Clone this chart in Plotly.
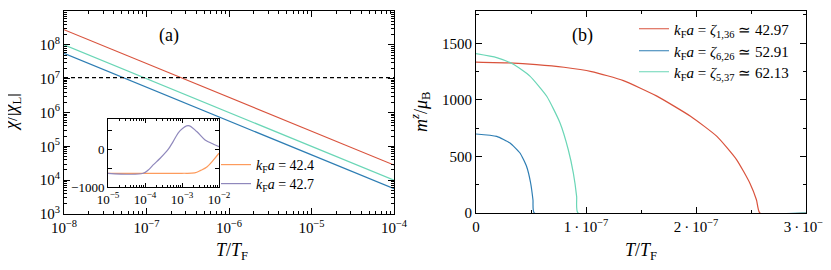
import plotly.graph_objects as go

# ---------------- data ----------------
# panel (a): chi/|chi_L| vs T/T_F (power law, endpoints)
T_a = [1e-8, 1e-4]
chi_red = [2.8e8, 2.8e4]
chi_green = [1.0e8, 1.0e4]
chi_blue = [5.6e7, 5.6e3]
chi_threshold = [1.07e7, 1.07e7]

# inset: values vs T/T_F (log x)
T_in_orange = [1e-5, 1e-4, 1e-3, 2.2e-3, 3.2e-3, 4.7e-3, 7.1e-3, 1e-2]
v_orange = [-637, -637, -637, -625, -560, -470, -284, -106]
T_in_purple = [1e-5, 8.9e-5, 1.23e-4, 1.66e-4, 2.57e-4, 4.27e-4, 5.75e-4,
               8.9e-4, 1.48e-3, 2.5e-3, 4.2e-3, 7.1e-3, 1e-2]
v_purple = [-637, -637, -549, -416, -240, 0, 202, 493, 626, 467, 247, 133, 69]

# panel (b): m^z/mu_B vs T/T_F
T_red = [0, 0.3e-7, 0.55e-7, 0.8e-7, 1.05e-7, 1.34e-7, 1.64e-7, 1.95e-7, 2.19e-7,
         2.37e-7, 2.49e-7, 2.55e-7, 2.58e-7, 3.0e-7]
m_red = [1334, 1327, 1312, 1288, 1250, 1170, 1035, 855, 677, 470, 263, 115, 0, 0]
T_blue = [0, 0.188e-7, 0.309e-7, 0.40e-7, 0.46e-7, 0.497e-7, 0.518e-7, 0.530e-7, 3.0e-7]
m_blue = [698, 677, 618, 530, 411, 263, 115, 0, 0]
T_green = [0, 0.188e-7, 0.339e-7, 0.49e-7, 0.643e-7, 0.764e-7, 0.839e-7, 0.885e-7,
           0.915e-7, 0.927e-7, 3.0e-7]
m_green = [1408, 1373, 1314, 1210, 1032, 796, 559, 352, 145, 0, 0]

names_b = ["<i>k</i><sub>F</sub><i>a</i> = <i>ζ</i><sub>1,36</sub> ≃ 42.97",
           "<i>k</i><sub>F</sub><i>a</i> = <i>ζ</i><sub>6,26</sub> ≃ 52.91",
           "<i>k</i><sub>F</sub><i>a</i> = <i>ζ</i><sub>5,37</sub> ≃ 62.13"]
names_in = ["<i>k</i><sub>F</sub><i>a</i> = 42.4", "<i>k</i><sub>F</sub><i>a</i> = 42.7"]

xa_exp = [-8, -7, -6, -5, -4]
ya_exp = [3, 4, 5, 6, 7, 8, 9]
xin_exp = [-5, -4, -3, -2]
xb_ticks = [0, 1e-7, 2e-7, 3e-7]
xb_text = ["0", "1\u2009·\u200910<sup>−7</sup>", "2\u2009·\u200910<sup>−7</sup>",
           "3\u2009·\u200910<sup>−7</sup>"]

x_title = "<i>T</i>/<i>T</i><sub>F</sub>"
ya_title = "<i>χ</i>/|<i>χ</i><sub>L</sub>|"
yb_title = "<i>m</i><sup><i>z</i></sup>/<i>μ</i><sub>B</sub>"


def pow_text(exps):
    return ["10<sup>" + str(e).replace("-", "−") + "</sup>" for e in exps]


def log_minor(lo, hi):
    return [m * 10.0 ** e for e in range(lo, hi) for m in range(2, 10)]


# page body offsets the figure by 8 px; map window pixels to paper fractions
OFF = 8
W, H = 831 - OFF, 270 - OFF


def px(x):
    return (x - OFF) / W


def py(y):
    return 1 - (y - OFF) / H


RED = "#d9523c"
BLUE = "#2d7db3"
GREEN = "#6ad6b6"
ORANGE = "#fd9b5c"
PURPLE = "#8f88bc"
FONT = "Liberation Serif"

fig = go.Figure()

# panel (a)
for y, c in [(chi_red, RED), (chi_green, GREEN), (chi_blue, BLUE)]:
    fig.add_trace(go.Scatter(x=T_a, y=y, mode="lines", line=dict(color=c, width=1.2),
                             showlegend=False, xaxis="x", yaxis="y"))
fig.add_trace(go.Scatter(x=T_a, y=chi_threshold, mode="lines",
                         line=dict(color="black", width=1.1, dash="4px,3px"),
                         showlegend=False, xaxis="x", yaxis="y"))

# inset
fig.add_trace(go.Scatter(x=T_in_orange, y=v_orange, mode="lines", line=dict(color=ORANGE, width=1.2, shape="spline"),
                         name=names_in[0], legend="legend4", xaxis="x3", yaxis="y3"))
fig.add_trace(go.Scatter(x=T_in_purple, y=v_purple, mode="lines", line=dict(color=PURPLE, width=1.2, shape="spline"),
                         name=names_in[1], legend="legend5", xaxis="x3", yaxis="y3"))

# panel (b)
for T, m, c, n, lg in [(T_red, m_red, RED, names_b[0], "legend"),
                       (T_blue, m_blue, BLUE, names_b[1], "legend2"),
                       (T_green, m_green, GREEN, names_b[2], "legend3")]:
    fig.add_trace(go.Scatter(x=T, y=m, mode="lines", line=dict(color=c, width=1.2, shape="spline", smoothing=0.5),
                             name=n, legend=lg, xaxis="x2", yaxis="y2"))

axcommon = dict(showline=True, linecolor="black", linewidth=1, mirror="allticks",
                ticks="inside", tickcolor="black", showgrid=False, zeroline=False,
                automargin=False, tickfont=dict(family=FONT, size=15, color="black"))
smallfont = dict(family=FONT, size=13, color="black")


def minor(vals, ln=3):
    return dict(ticks="inside", ticklen=ln, tickcolor="black", tickmode="array", tickvals=vals)


def leg(xpix, ypix, size=15):
    return dict(x=px(xpix), y=py(ypix), xanchor="left", yanchor="middle", bgcolor="rgba(0,0,0,0)",
                font=dict(family=FONT, size=size), itemwidth=30, tracegroupgap=0)


def label(text, xpix, ypix, size=18, angle=0):
    return dict(text=text, x=px(xpix), y=py(ypix), xref="paper", yref="paper",
                showarrow=False, xanchor="center", yanchor="middle", textangle=angle,
                font=dict(family=FONT, size=size, color="black"))


fig.update_layout(
    width=W, height=H, margin=dict(l=0, r=0, t=0, b=0, autoexpand=False),
    paper_bgcolor="white", plot_bgcolor="white",
    font=dict(family=FONT, size=15, color="black"),
    xaxis=dict(domain=[px(64), px(394)], type="log", range=[-8, -4], tickmode="array",
               tickvals=[10.0 ** e for e in xa_exp], ticktext=pow_text(xa_exp), ticklen=6,
               minor=minor(log_minor(-8, -4)), anchor="y", **axcommon),
    yaxis=dict(domain=[py(214), py(11)], type="log", range=[3, 9], tickmode="array",
               tickvals=[10.0 ** e for e in ya_exp], ticktext=pow_text(ya_exp), ticklen=6,
               minor=minor(log_minor(3, 9)), anchor="x", **axcommon),
    xaxis2=dict(domain=[px(476), px(806)], range=[0, 3e-7], tickmode="array",
                tickvals=xb_ticks, ticktext=xb_text, ticklen=6,
                minor=minor([0.5e-7, 1.5e-7, 2.5e-7]), anchor="y2", **axcommon),
    yaxis2=dict(domain=[py(213), py(11)], range=[0, 1785], tickmode="array",
                tickvals=[0, 500, 1000, 1500], ticktext=["0", "500", "1000", "1500"], ticklen=6,
                minor=minor([250, 750, 1250, 1750]), anchor="x2", **axcommon),
    xaxis3=dict(domain=[px(108), px(219)], type="log", range=[-5, -2], tickmode="array",
                tickvals=[10.0 ** e for e in xin_exp], ticktext=pow_text(xin_exp), ticklen=4,
                minor=minor(log_minor(-5, -2), 2),
                anchor="y3", **{**axcommon, "tickfont": smallfont}),
    yaxis3=dict(domain=[py(187), py(119)], range=[-1000, 800], tickmode="array",
                tickvals=[-1000, -500, 0, 500], ticktext=["−1000", "", "0", ""], ticklen=4,
                anchor="x3", **{**axcommon, "tickfont": smallfont}),
    legend=leg(634, 29),
    legend2=leg(634, 51),
    legend3=leg(634, 72),
    legend4=leg(216, 165, 14),
    legend5=leg(216, 184, 14),
    annotations=[
        label("(a)", 169, 35),
        label("(b)", 582, 35),
        label(x_title, 232, 251),
        label(x_title, 641, 251),
        label(ya_title, 12, 112, angle=-90),
        label(yb_title, 420, 112, angle=-90),
    ],
)

fig.write_html("out.html")
